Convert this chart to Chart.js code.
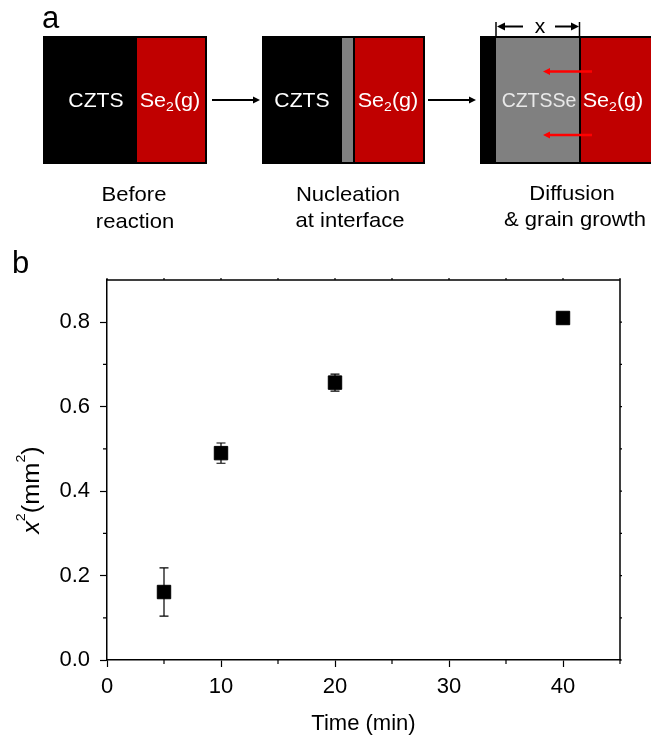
<!DOCTYPE html>
<html>
<head>
<meta charset="utf-8">
<script src="https://cdn.jsdelivr.net/npm/chart.js@4/dist/chart.umd.min.js"></script>
<style>
  html, body { margin:0; padding:0; background:#fff; }
  body { width:651px; height:740px; position:relative; overflow:hidden; font-family:'Liberation Sans', Arial, sans-serif; }
  #c { position:absolute; left:0; top:240px; }
  #schem { position:absolute; left:0; top:0; pointer-events:none; }
</style>
</head>
<body>
<canvas id="c" width="651" height="500"></canvas>
<svg id="schem" width="651" height="740" font-family="'Liberation Sans', Arial, sans-serif">
  <!-- panel labels -->
  <text x="42" y="28" font-size="31" fill="#000">a</text>
  <text x="12" y="273" font-size="31" fill="#000">b</text>

  <!-- box 1 : before reaction -->
  <rect x="43" y="36" width="164" height="128" fill="#000"/>
  <rect x="137" y="38" width="68" height="124" fill="#c00000"/>
  <text transform="translate(96,107) scale(1.06,1)" text-anchor="middle" font-size="20" fill="#fff">CZTS</text>
  <text transform="translate(170,107) scale(1.08,1)" text-anchor="middle" font-size="20" fill="#fff">Se<tspan font-size="13" dy="4">2</tspan><tspan dy="-4">(g)</tspan></text>

  <!-- arrow 1 -->
  <line x1="212" y1="100" x2="254" y2="100" stroke="#000" stroke-width="2"/>
  <polygon points="260,100 253,96.5 253,103.5" fill="#000"/>

  <!-- box 2 : nucleation -->
  <rect x="262" y="36" width="163" height="128" fill="#000"/>
  <rect x="342" y="38" width="11" height="124" fill="#808080"/>
  <rect x="355" y="38" width="68" height="124" fill="#c00000"/>
  <text transform="translate(302,107) scale(1.06,1)" text-anchor="middle" font-size="20" fill="#fff">CZTS</text>
  <text transform="translate(388,107) scale(1.08,1)" text-anchor="middle" font-size="20" fill="#fff">Se<tspan font-size="13" dy="4">2</tspan><tspan dy="-4">(g)</tspan></text>

  <!-- arrow 2 -->
  <line x1="428" y1="100" x2="470" y2="100" stroke="#000" stroke-width="2"/>
  <polygon points="476,100 469,96.5 469,103.5" fill="#000"/>

  <!-- box 3 : diffusion -->
  <rect x="480" y="36" width="175" height="128" fill="#000"/>
  <rect x="496" y="38" width="83" height="124" fill="#808080"/>
  <rect x="581" y="38" width="74" height="124" fill="#c00000"/>
  <text transform="translate(539,107)" text-anchor="middle" font-size="19.5" fill="#e8e8e8">CZTSSe</text>
  <text transform="translate(613,107) scale(1.08,1)" text-anchor="middle" font-size="20" fill="#fff">Se<tspan font-size="13" dy="4">2</tspan><tspan dy="-4">(g)</tspan></text>

  <!-- red diffusion arrows -->
  <line x1="592" y1="71.5" x2="549" y2="71.5" stroke="#ff0000" stroke-width="2.5"/>
  <polygon points="543,71.5 550,68 550,75" fill="#ff0000"/>
  <line x1="592" y1="135" x2="549" y2="135" stroke="#ff0000" stroke-width="2.5"/>
  <polygon points="543,135 550,131.5 550,138.5" fill="#ff0000"/>

  <!-- dimension x -->
  <line x1="496" y1="22" x2="496" y2="36" stroke="#000" stroke-width="1.5"/>
  <line x1="579.5" y1="22" x2="579.5" y2="36" stroke="#000" stroke-width="1.5"/>
  <line x1="502" y1="26.5" x2="523" y2="26.5" stroke="#000" stroke-width="2"/>
  <polygon points="497,26.5 505,22.5 505,30.5" fill="#000"/>
  <line x1="555" y1="26.5" x2="574" y2="26.5" stroke="#000" stroke-width="2"/>
  <polygon points="579,26.5 571,22.5 571,30.5" fill="#000"/>
  <text x="540" y="33" text-anchor="middle" font-size="21" fill="#000">x</text>

  <!-- captions -->
  <g font-size="21" fill="#000" text-anchor="middle">
    <text transform="translate(134,201) scale(1.05,1)">Before</text>
    <text transform="translate(135,228) scale(1.05,1)">reaction</text>
    <text transform="translate(348,201) scale(1.05,1)">Nucleation</text>
    <text transform="translate(350,227) scale(1.05,1)">at interface</text>
    <text transform="translate(572,200) scale(1.05,1)">Diffusion</text>
    <text transform="translate(575,226) scale(1.05,1)">&amp; grain growth</text>
  </g>
</svg>
<script>
// ---- data ----
const times = [5, 10, 20, 40];            // Time (min)
const x2Values = [0.161, 0.490, 0.657, 0.810]; // x^2 (mm^2)
const x2Errors = [0.057, 0.024, 0.020, 0.004];
const xTicks = [0, 10, 20, 30, 40];
const xMinorTicks = [5, 15, 25, 35, 45];
const yTicks = [0.0, 0.2, 0.4, 0.6, 0.8];
const yMinorTicks = [0.1, 0.3, 0.5, 0.7];

const FONT = "'Liberation Sans', Arial, sans-serif";

const errorBarPlugin = {
  id: 'errorBars',
  beforeDatasetsDraw(chart) {
    const {ctx, scales: {x, y}} = chart;
    ctx.save();
    ctx.strokeStyle = '#000';
    ctx.lineWidth = 1.2;
    times.forEach((t, i) => {
      const px = x.getPixelForValue(t);
      const yt = y.getPixelForValue(x2Values[i] + x2Errors[i]);
      const yb = y.getPixelForValue(x2Values[i] - x2Errors[i]);
      ctx.beginPath();
      ctx.moveTo(px, yt); ctx.lineTo(px, yb);
      ctx.moveTo(px - 4.5, yt); ctx.lineTo(px + 4.5, yt);
      ctx.moveTo(px - 4.5, yb); ctx.lineTo(px + 4.5, yb);
      ctx.stroke();
    });
    ctx.restore();
  }
};

const framePlugin = {
  id: 'frame',
  afterDraw(chart) {
    const {ctx, chartArea: a, scales: {x, y}} = chart;
    ctx.save();
    ctx.strokeStyle = '#000';
    ctx.lineWidth = 1.5;
    ctx.beginPath();
    ctx.moveTo(a.left, a.top); ctx.lineTo(a.right, a.top); ctx.lineTo(a.right, a.bottom);
    ctx.stroke();
    ctx.lineWidth = 1.2;
    ctx.beginPath();
    xMinorTicks.forEach(v => {
      const px = x.getPixelForValue(v);
      ctx.moveTo(px, a.bottom); ctx.lineTo(px, a.bottom + 4);
    });
    yMinorTicks.forEach(v => {
      const py = y.getPixelForValue(v);
      ctx.moveTo(a.left, py); ctx.lineTo(a.left - 4, py);
    });
    // tiny mirrored ticks on top and right frame
    xTicks.concat(xMinorTicks).forEach(v => {
      const px = x.getPixelForValue(v);
      ctx.moveTo(px, a.top); ctx.lineTo(px, a.top - 2);
    });
    yTicks.concat(yMinorTicks).forEach(v => {
      const py = y.getPixelForValue(v);
      ctx.moveTo(a.right, py); ctx.lineTo(a.right + 2, py);
    });
    ctx.stroke();

    // y-axis title: x^2(mm^2), rotated, italic x
    const parts = [
      {t: 'x', f: 'italic 23px ' + FONT, dy: 0},
      {t: '2', f: '13px ' + FONT, dy: -14},
      {t: '(mm', f: '23px ' + FONT, dy: 0},
      {t: '2', f: '13px ' + FONT, dy: -14},
      {t: ')', f: '23px ' + FONT, dy: 0}
    ];
    let total = 0;
    parts.forEach(p => { ctx.font = p.f; p.w = ctx.measureText(p.t).width; total += p.w; });
    const sx = 1.1;
    ctx.translate(38.5, 250);
    ctx.rotate(-Math.PI / 2);
    ctx.scale(sx, 1);
    ctx.fillStyle = '#000';
    ctx.textBaseline = 'alphabetic';
    ctx.textAlign = 'left';
    let cx = -total / 2;
    parts.forEach(p => { ctx.font = p.f; ctx.fillText(p.t, cx, p.dy); cx += p.w; });
    ctx.restore();
  }
};

new Chart(document.getElementById('c'), {
  type: 'scatter',
  data: {
    datasets: [{
      data: times.map((t, i) => ({x: t, y: x2Values[i]})),
      pointStyle: 'rect',
      pointRadius: 9.5,
      pointHoverRadius: 9.5,
      backgroundColor: '#000',
      borderColor: '#000',
      borderWidth: 1
    }]
  },
  options: {
    responsive: false,
    animation: false,
    devicePixelRatio: 1,
    layout: {padding: {left: 0, right: 31, top: 40, bottom: 0}},
    plugins: {legend: {display: false}, tooltip: {enabled: false}},
    scales: {
      x: {
        type: 'linear', min: 0, max: 45,
        afterBuildTicks: s => { s.ticks = xTicks.map(v => ({value: v})); },
        afterFit: s => { s.height = 80; },
        grid: {display: true, drawOnChartArea: false, drawTicks: true, tickLength: 7, tickWidth: 1.2, tickColor: '#000'},
        border: {display: true, color: '#000', width: 1.5},
        ticks: {color: '#000', font: {family: FONT, size: 22}, padding: 7, maxRotation: 0, autoSkip: false},
        title: {display: true, text: 'Time (min)', color: '#000', font: {family: FONT, size: 22}, padding: {top: 0, bottom: 3}}
      },
      y: {
        type: 'linear', min: 0, max: 0.9,
        afterBuildTicks: s => { s.ticks = yTicks.map(v => ({value: v})); },
        afterFit: s => { s.width = 107; },
        grid: {display: true, drawOnChartArea: false, drawTicks: true, tickLength: 7, tickWidth: 1.2, tickColor: '#000'},
        border: {display: true, color: '#000', width: 1.5},
        ticks: {color: '#000', font: {family: FONT, size: 22}, padding: 10, callback: v => Number(v).toFixed(1)}
      }
    }
  },
  plugins: [errorBarPlugin, framePlugin]
});
</script>
</body>
</html>
